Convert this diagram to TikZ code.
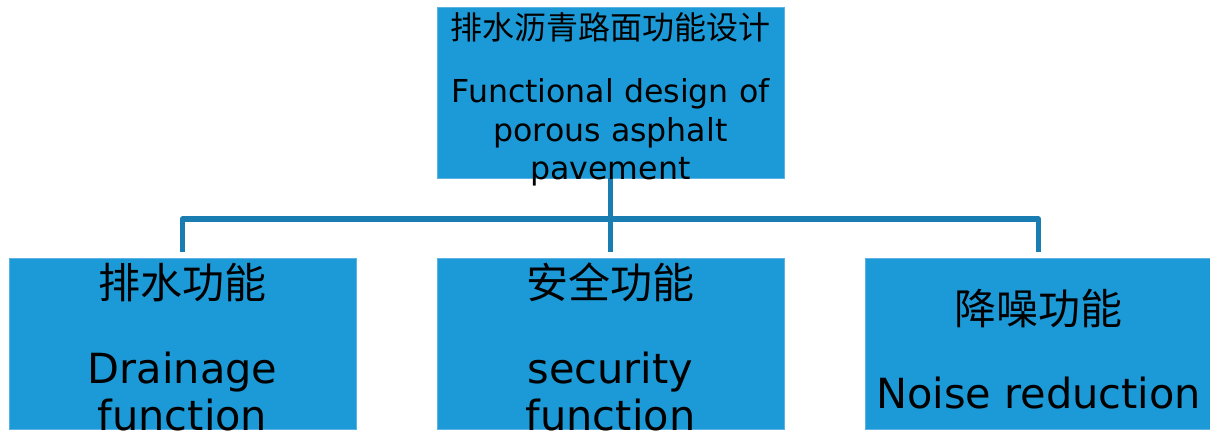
\documentclass[tikz,border=0pt]{standalone}
\usepackage{fontspec}
\setmainfont{DejaVu Sans}
\newfontfamily\cjk{Noto Sans CJK SC}
\definecolor{boxfill}{RGB}{28,154,215}
\definecolor{boxedge}{RGB}{92,178,226}
\definecolor{connc}{RGB}{26,125,177}
\begin{document}
\begin{tikzpicture}[x=1pt,y=-1pt,
  box/.style={draw=boxedge, line width=0.8pt, fill=boxfill, minimum width=347pt, minimum height=171pt, inner sep=0pt},
  conn/.style={draw=connc, line width=5.5pt, line join=round},
  txt/.style={anchor=base, inner sep=0pt, text=black},
  zhs/.style={font=\cjk\fontsize{32}{38}\selectfont},
  ens/.style={font=\fontsize{31.6}{38}\selectfont},
  zhb/.style={font=\cjk\fontsize{42}{48}\selectfont},
  enb/.style={font=\fontsize{41.5}{47}\selectfont}]
\useasboundingbox (0,0) rectangle (1210,440);
\coordinate (bus) at (610.5,219);
% boxes
\node[box] (top) at (610.5,92.5) {};
\node[box] (b1) at (182.5,343.5) {};
\node[box] (b2) at (610.5,343.5) {};
\node[box] (b3) at (1038.5,343.5) {};
% connectors
\draw[conn] (top.south) -- (bus);
\draw[conn] ([yshift=6pt]b2.north) -- (bus);
\draw[conn] ([yshift=6pt]b1.north) |- (b3.north |- bus) -- ([yshift=6pt]b3.north);
% texts
\node[txt,zhs] (t0) at (610.5,39) {排水沥青路面功能设计};
\node[txt,ens] (t1) at (610.5,102) {Functional design of};
\node[txt,ens] (t2) at (610.5,141) {porous asphalt};
\node[txt,ens] (t3) at (610.5,179) {pavement};
\node[txt,zhb] (a0) at (182.5,298) {排水功能};
\node[txt,enb] (a1) at (182.5,383) {Drainage};
\node[txt,enb] (a2) at (182.5,430) {function};
\node[txt,zhb] (s0) at (610.5,298) {安全功能};
\node[txt,enb] (s1) at (610.5,383) {security};
\node[txt,enb] (s2) at (610.5,430) {function};
\node[txt,zhb] (n0) at (1038.5,324) {降噪功能};
\node[txt,enb] (n1) at (1038.5,408) {Noise reduction};
\end{tikzpicture}
\end{document}
